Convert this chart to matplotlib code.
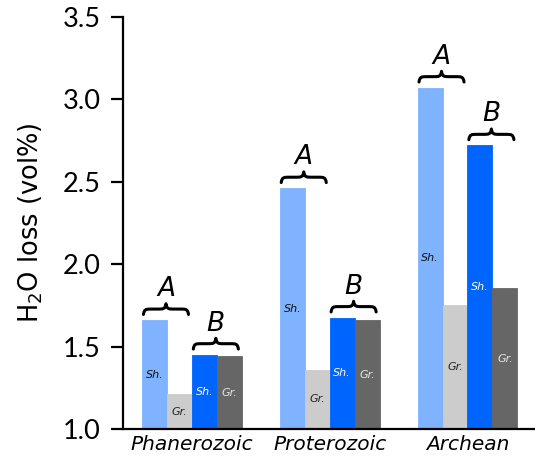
import matplotlib
matplotlib.use("Agg")
import matplotlib.pyplot as plt
import numpy as np
from matplotlib.path import Path
from matplotlib.patches import PathPatch

# H2O loss by eon, two models (A, B), shale vs granite
eons = ["Phanerozoic", "Proterozoic", "Archean"]
a_shale = [1.66, 2.46, 3.07]
a_granite = [1.21, 1.36, 1.75]
b_shale = [1.45, 1.675, 2.72]
b_granite = [1.44, 1.66, 1.855]

yticks = [1.0, 1.5, 2.0, 2.5, 3.0, 3.5]

c_lblue = "#80b3ff"
c_lgray = "#cccccc"
c_blue = "#0064ff"
c_dgray = "#666666"

base = 1.0
w = 0.181


def brace(ax, x0, x1, y, h, lw=2.2):
    # horizontal curly brace pointing up, from x0 to x1, bottom at y
    xm = (x0 + x1) / 2
    q = (x1 - x0) * 0.18
    ym = y + h / 2
    verts = [
        (x0, y), (x0 + q * 0.1, ym), (x0 + q * 0.3, ym), (x0 + q, ym),
        (xm - q, ym),
        (xm - q * 0.3, ym), (xm - q * 0.1, ym), (xm, y + h),
        (xm + q * 0.1, ym), (xm + q * 0.3, ym), (xm + q, ym),
        (x1 - q, ym),
        (x1 - q * 0.3, ym), (x1 - q * 0.1, ym), (x1, y),
    ]
    codes = [Path.MOVETO, Path.CURVE4, Path.CURVE4, Path.CURVE4,
             Path.LINETO,
             Path.CURVE4, Path.CURVE4, Path.CURVE4,
             Path.CURVE4, Path.CURVE4, Path.CURVE4,
             Path.LINETO,
             Path.CURVE4, Path.CURVE4, Path.CURVE4]
    ax.add_patch(PathPatch(Path(verts, codes), fill=False, lw=lw,
                           edgecolor="black", capstyle="round",
                           joinstyle="round", zorder=4))


fig = plt.figure(figsize=(5.35, 4.57), dpi=100)
ax = fig.add_axes([0.23, 0.0613, 0.77, 0.9017])

x = np.arange(len(eons))
series = [
    (a_shale, c_lblue, "Sh.", "#111111"),
    (a_granite, c_lgray, "Gr.", "#222222"),
    (b_shale, c_blue, "Sh.", "white"),
    (b_granite, c_dgray, "Gr.", "#e8e8e8"),
]
for k, (vals, col, lab, tcol) in enumerate(series):
    xs = x - 2 * w + (k + 0.5) * w
    heights = np.array(vals) - base
    ax.bar(xs, heights, width=w, bottom=base, color=col,
           edgecolor=col, linewidth=0.6, zorder=2)
    for xi, v in zip(xs, vals):
        ax.text(xi, (base + v) / 2, lab, ha="center", va="center",
                fontsize=8, style="italic", color=tcol, zorder=3)

gap = 0.035
bh = 0.065
for i in range(len(eons)):
    # group A over first pair, B over second pair
    for j, (top, letter) in enumerate([(max(a_shale[i], a_granite[i]), "A"),
                                       (max(b_shale[i], b_granite[i]), "B")]):
        x0 = x[i] - 2 * w + 2 * j * w + 0.01
        x1 = x0 + 2 * w - 0.035
        brace(ax, x0, x1, top + gap, bh)
        ax.text((x0 + x1) / 2, top + gap + bh + 0.01, letter,
                ha="center", va="bottom", fontsize=19, style="italic")

ax.set_xlim(-0.5, 2.49)
ax.set_ylim(1.0, 3.5)
ax.set_yticks(yticks)
ax.set_yticklabels(["%.1f" % t for t in yticks], fontfamily="Lato", fontsize=19.5)
ax.set_xticks(x)
ax.set_xticklabels(eons, fontsize=14.5, style="italic")
ax.tick_params(axis="x", length=0, pad=4)
ax.tick_params(axis="y", length=9, width=1.6, pad=7)
ax.set_ylabel("H$_2$O loss (vol%)", fontsize=18.5, labelpad=13)

for s in ["top", "right"]:
    ax.spines[s].set_visible(False)
ax.spines["left"].set_linewidth(1.6)
ax.spines["bottom"].set_linewidth(1.6)

fig.savefig("out.png", dpi=100)
